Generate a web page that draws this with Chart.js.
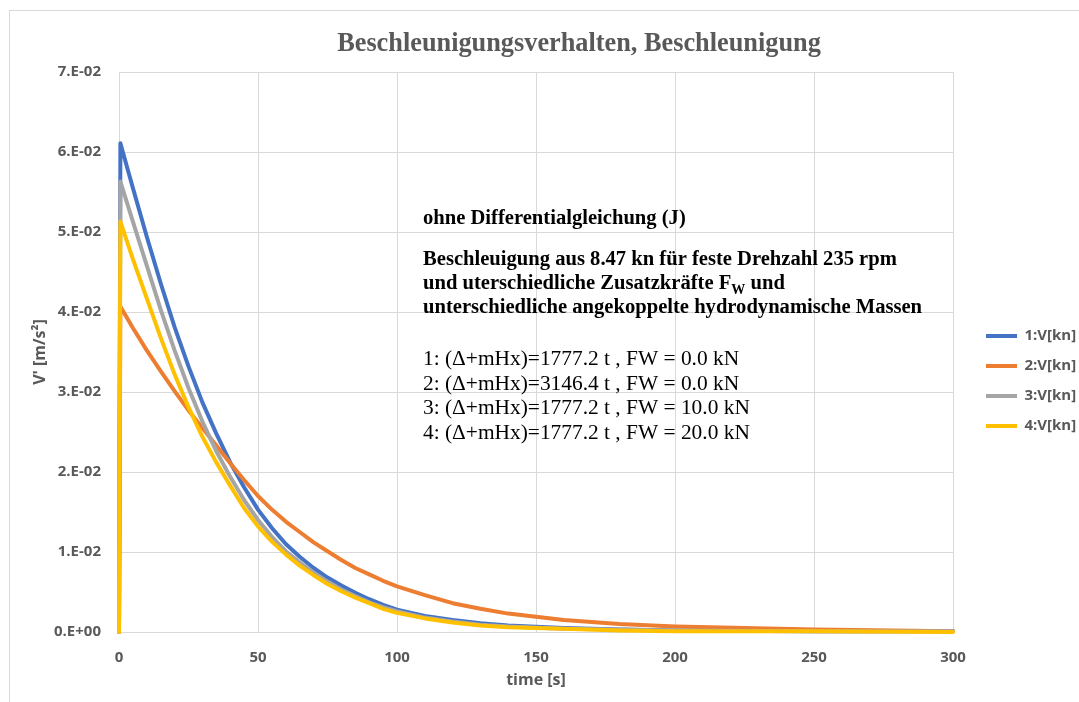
<!DOCTYPE html>
<html>
<head>
<meta charset="utf-8">
<title>Beschleunigungsverhalten, Beschleunigung</title>
<script src="https://cdn.jsdelivr.net/npm/chart.js@4.4.1/dist/chart.umd.min.js"></script>
<style>
    html, body { margin: 0; padding: 0; background: #ffffff; }
    #chart { display: block; }
</style>
</head>
<body>
<canvas id="chart" width="1079" height="702"></canvas>
<script>
// Zeitachse [s]
const timeS = [0, 0.5, 5, 10, 15, 20, 25, 30, 35, 40, 45, 50, 55, 60, 65, 70, 75, 80, 85, 90, 95, 100, 110, 120, 130, 140, 160, 180, 200, 250, 300];

// Beschleunigung V' [m/s²] je Fall
const accel1 = [0, 0.0611, 0.0555, 0.0494, 0.0436, 0.0381, 0.0332, 0.0287, 0.0248, 0.0212, 0.0181, 0.0153, 0.0130, 0.0110, 0.0094, 0.0080, 0.0068, 0.0058, 0.0049, 0.0041, 0.0034, 0.0028, 0.0020, 0.0015, 0.0011, 0.0008, 0.0005, 0.0003, 0.0002, 0.0001, 0.0001];
const accel2 = [0, 0.0407, 0.0380, 0.0352, 0.0326, 0.0301, 0.0277, 0.0255, 0.0233, 0.0211, 0.0190, 0.0170, 0.0153, 0.0138, 0.0125, 0.0112, 0.0101, 0.0090, 0.0080, 0.0072, 0.0064, 0.0057, 0.0046, 0.0036, 0.0029, 0.0023, 0.0015, 0.0010, 0.0007, 0.0003, 0.0001];
const accel3 = [0, 0.0563, 0.0513, 0.0458, 0.0403, 0.0352, 0.0305, 0.0263, 0.0226, 0.0194, 0.0165, 0.0140, 0.0119, 0.0101, 0.0087, 0.0074, 0.0063, 0.0053, 0.0045, 0.0037, 0.0031, 0.0026, 0.0018, 0.0013, 0.0009, 0.0007, 0.0004, 0.0003, 0.0002, 0.0001, 0.0001];
const accel4 = [0, 0.0513, 0.0466, 0.0417, 0.0368, 0.0322, 0.0281, 0.0244, 0.0212, 0.0183, 0.0155, 0.0132, 0.0113, 0.0097, 0.0083, 0.0071, 0.0060, 0.0051, 0.0043, 0.0036, 0.0029, 0.0024, 0.0017, 0.0012, 0.0008, 0.0006, 0.0004, 0.0002, 0.0001, 0.0001, 0.0000];

const seriesNames = ['1:V[kn]', '2:V[kn]', '3:V[kn]', '4:V[kn]'];
const seriesColors = ['#4472C4', '#ED7D31', '#A5A5A5', '#FFC000'];

// Achsbeschriftungen
const yTickLabels = ['0.E+00', '1.E-02', '2.E-02', '3.E-02', '4.E-02', '5.E-02', '6.E-02', '7.E-02'];
const xTickLabels = ['0', '50', '100', '150', '200', '250', '300'];

const chartTitle = 'Beschleunigungsverhalten, Beschleunigung';
const noteBold = [
    'ohne Differentialgleichung (J)',
    'Beschleuigung aus 8.47 kn für feste Drehzahl 235 rpm',
    'und uterschiedliche Zusatzkräfte F',
    'unterschiedliche angekoppelte hydrodynamische Massen'
];
const noteCases = [
    '1: (Δ+mHx)=1777.2 t , FW = 0.0 kN',
    '2: (Δ+mHx)=3146.4 t , FW = 0.0 kN',
    '3: (Δ+mHx)=1777.2 t , FW = 10.0 kN',
    '4: (Δ+mHx)=1777.2 t , FW = 20.0 kN'
];

const axisFont = { family: '"Open Sans", "Liberation Sans", sans-serif', size: 15, weight: 'bold' };
const serif = '"Liberation Serif", "Times New Roman", serif';
const gridColor = '#d9d9d9';
const textGray = '#595959';

function toPoints(values) {
    return values.map((v, i) => ({ x: timeS[i], y: v }));
}

const allSeries = [accel1, accel2, accel3, accel4];
const datasets = allSeries.map((values, i) => ({
    label: seriesNames[i],
    data: toPoints(values),
    borderColor: seriesColors[i],
    backgroundColor: seriesColors[i],
    borderWidth: 4,
    pointRadius: 0,
    tension: 0,
    borderCapStyle: 'round',
    borderJoinStyle: 'round',
    clip: false,
    order: 4 - i
}));

// Rahmen, Titel und Textblock
const textPlugin = {
    id: 'textBlock',
    beforeDraw(chart) {
        const ctx = chart.ctx;
        ctx.save();
        ctx.strokeStyle = gridColor;
        ctx.lineWidth = 1;
        ctx.strokeRect(9.5, 10.5, 2000, 2000);
        ctx.restore();
    },
    afterDraw(chart) {
        const ctx = chart.ctx;
        ctx.save();
        ctx.fillStyle = textGray;
        ctx.font = 'bold 26.3px ' + serif;
        ctx.textAlign = 'center';
        ctx.textBaseline = 'alphabetic';
        ctx.fillText(chartTitle, 579, 51);

        ctx.textAlign = 'left';
        ctx.fillStyle = '#000000';
        const x0 = 423;
        const boldFont = 'bold 20.6px ' + serif;
        ctx.font = boldFont;
        ctx.fillText(noteBold[0], x0, 224);
        ctx.fillText(noteBold[1], x0, 265);
        ctx.fillText(noteBold[2], x0, 289);
        // Index W an F
        let w = ctx.measureText(noteBold[2]).width;
        ctx.font = 'bold 14px ' + serif;
        ctx.fillText('W', x0 + w, 294);
        w += ctx.measureText('W').width;
        ctx.font = boldFont;
        ctx.fillText(' und', x0 + w, 289);
        ctx.fillText(noteBold[3], x0, 313);

        ctx.font = '21.4px ' + serif;
        noteCases.forEach((line, i) => {
            ctx.fillText(line, x0, 365 + i * 24.5);
        });
        ctx.restore();
    }
};

const ctx = document.getElementById('chart').getContext('2d');
const chart = new Chart(ctx, {
    type: 'line',
    data: { datasets: datasets },
    options: {
        responsive: false,
        animation: false,
        events: [],
        layout: { padding: { top: 72, bottom: 12, left: 0, right: 0 } },
        plugins: {
            title: { display: false },
            tooltip: { enabled: false },
            legend: {
                position: 'right',
                maxWidth: 108,
                sort: (a, b) => a.datasetIndex - b.datasetIndex,
                labels: {
                    boxWidth: 31,
                    boxHeight: 4,
                    padding: 15,
                    color: textGray,
                    font: axisFont,
                    generateLabels(chart) {
                        return chart.data.datasets.map((ds, i) => ({
                            text: ds.label,
                            fillStyle: ds.borderColor,
                            strokeStyle: ds.borderColor,
                            lineWidth: 0,
                            fontColor: textGray,
                            datasetIndex: i,
                            hidden: false
                        }));
                    }
                }
            }
        },
        scales: {
            x: {
                type: 'linear',
                min: 0,
                max: 300,
                afterFit: s => { s.height = 58; },
                ticks: {
                    stepSize: 50,
                    color: textGray,
                    font: axisFont,
                    padding: 17,
                    maxRotation: 0,
                    callback: (v, i) => xTickLabels[i]
                },
                grid: { color: gridColor, drawTicks: false },
                border: { color: gridColor, width: 1 },
                title: {
                    display: true,
                    text: 'time [s]',
                    color: textGray,
                    font: { family: axisFont.family, size: 16, weight: 'bold' },
                    padding: { top: 0, bottom: 0 }
                }
            },
            y: {
                min: 0,
                max: 0.07,
                afterFit: s => { s.width = 119; },
                ticks: {
                    stepSize: 0.01,
                    color: textGray,
                    font: axisFont,
                    padding: 18,
                    callback: (v, i) => yTickLabels[i]
                },
                grid: { color: gridColor, drawTicks: false },
                border: { color: gridColor, width: 1 },
                title: {
                    display: true,
                    text: "V' [m/s²]",
                    color: textGray,
                    font: { family: axisFont.family, size: 16, weight: 'bold' },
                    padding: { top: 31, bottom: 0 }
                }
            },
            gap: {
                position: 'right',
                display: true,
                afterFit: s => { s.width = 18; },
                ticks: { display: false },
                grid: { display: false },
                border: { display: false }
            }
        }
    },
    plugins: [textPlugin]
});
</script>
</body>
</html>
